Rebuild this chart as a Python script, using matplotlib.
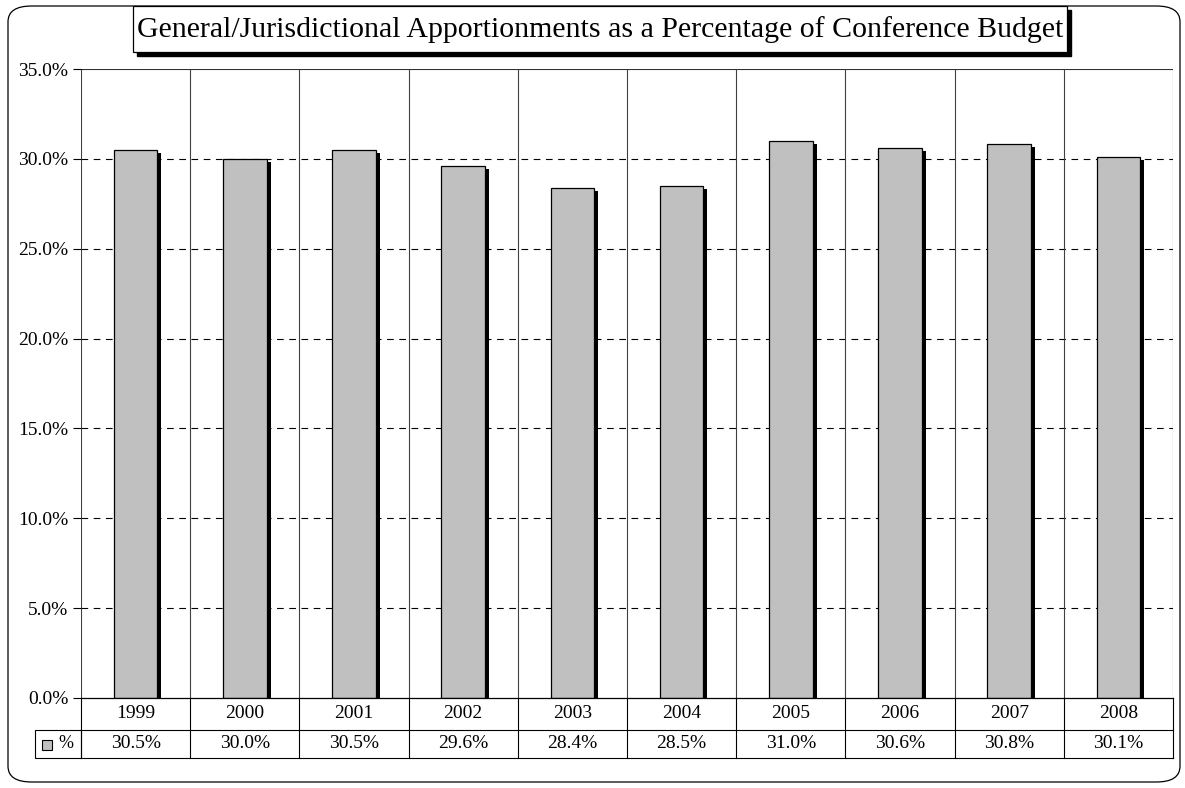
import matplotlib
matplotlib.use("Agg")
import matplotlib.pyplot as plt
import matplotlib.transforms as mtransforms
from matplotlib.patches import Rectangle, FancyBboxPatch

years = ["1999", "2000", "2001", "2002", "2003", "2004", "2005", "2006", "2007", "2008"]
pct = [30.5, 30.0, 30.5, 29.6, 28.4, 28.5, 31.0, 30.6, 30.8, 30.1]
yticks = [0, 5, 10, 15, 20, 25, 30, 35]
title = "General/Jurisdictional Apportionments as a Percentage of Conference Budget"

plt.rcParams["font.family"] = ["Liberation Serif", "DejaVu Serif"]

W, H = 1185, 788
fig = plt.figure(figsize=(W / 100, H / 100), dpi=100)

def fx(px):
    return px / W

def fy(py):
    return 1 - py / H

# plot area in pixel terms
L, R, T, B = 81, 1173, 69, 698
ax = fig.add_axes([fx(L), fy(B), fx(R - L), (B - T) / H])

n = len(years)
x = list(range(n))
ax.set_xlim(-0.5, n - 0.5)
ax.set_ylim(0, 35)

# drop shadow behind each bar
unit_x = n / (R - L)
unit_y = 35 / (B - T)
ax.bar([i + 4 * unit_x for i in x], [v - 3 * unit_y for v in pct], width=0.4,
       color="black", zorder=2)
ax.bar(x, pct, width=0.4, color="#C0C0C0", edgecolor="black", linewidth=0.9, zorder=3)

# dashed gridlines and category separators
for t in yticks[1:-1]:
    ax.axhline(t, color="black", linestyle=(0, (6, 5)), linewidth=0.8, zorder=1)
ax.axhline(35, color="#303030", linewidth=0.8, zorder=1)
for i in range(n + 1):
    ax.axvline(i - 0.5, color="#404040", linewidth=0.8, zorder=1)

for s in ["top", "bottom", "right", "left"]:
    ax.spines[s].set_visible(False)
ax.axhline(0, color="black", linewidth=0.9, zorder=4, clip_on=False)

ax.set_yticks(yticks)
ax.set_yticklabels([f"{t:.1f}%" for t in yticks], fontsize=14)
ax.tick_params(axis="y", length=6, width=0.8, pad=3)
ax.set_xticks([])

# data table under the axis
trans = mtransforms.blended_transform_factory(ax.transData, ax.transAxes)
ph = B - T
r1 = -32 / ph
r2 = -60 / ph
for i in range(n + 1):
    ax.plot([i - 0.5, i - 0.5], [0, r2], color="black", linewidth=0.8,
            transform=trans, clip_on=False)
ax.plot([-0.5, n - 0.5], [r1, r1], color="black", linewidth=0.8,
        transform=trans, clip_on=False)
ax.plot([-0.5, n - 0.5], [r2, r2], color="black", linewidth=0.8,
        transform=trans, clip_on=False)
for i in x:
    ax.text(i, r1 / 2, years[i], transform=trans, ha="center", va="center", fontsize=14)
    ax.text(i, (r1 + r2) / 2, f"{pct[i]:.1f}%", transform=trans, ha="center",
            va="center", fontsize=14)

# legend key cell
fig.add_artist(Rectangle((fx(35), fy(758)), fx(81 - 35), (758 - 730) / H,
                         transform=fig.transFigure, fill=False,
                         edgecolor="black", linewidth=0.8))
fig.add_artist(Rectangle((fx(42), fy(750)), fx(10), 10 / H,
                         transform=fig.transFigure, facecolor="#C0C0C0",
                         edgecolor="black", linewidth=0.8))
fig.text(fx(58), fy(744), "%", fontsize=13, va="center", ha="left")

# title box with shadow
tx0, tx1, ty0, ty1 = 133, 1067, 6, 52
fig.add_artist(Rectangle((fx(tx0 + 4), fy(ty1 + 4)), fx(tx1 - tx0), (ty1 - ty0) / H,
                         transform=fig.transFigure, facecolor="black",
                         edgecolor="black"))
fig.add_artist(Rectangle((fx(tx0), fy(ty1)), fx(tx1 - tx0), (ty1 - ty0) / H,
                         transform=fig.transFigure, facecolor="white",
                         edgecolor="black", linewidth=0.9))
fig.text(fx((tx0 + tx1) / 2), fy((ty0 + ty1) / 2 + 1), title,
         ha="center", va="center", fontsize=21.5)

# rounded outer frame
fig.add_artist(FancyBboxPatch((fx(8), fy(782)), fx(1172), 776 / H,
                              boxstyle="round,pad=0,rounding_size=0.02",
                              transform=fig.transFigure, fill=False,
                              edgecolor="black", linewidth=0.9, zorder=0))

fig.savefig("out.png", dpi=100)
